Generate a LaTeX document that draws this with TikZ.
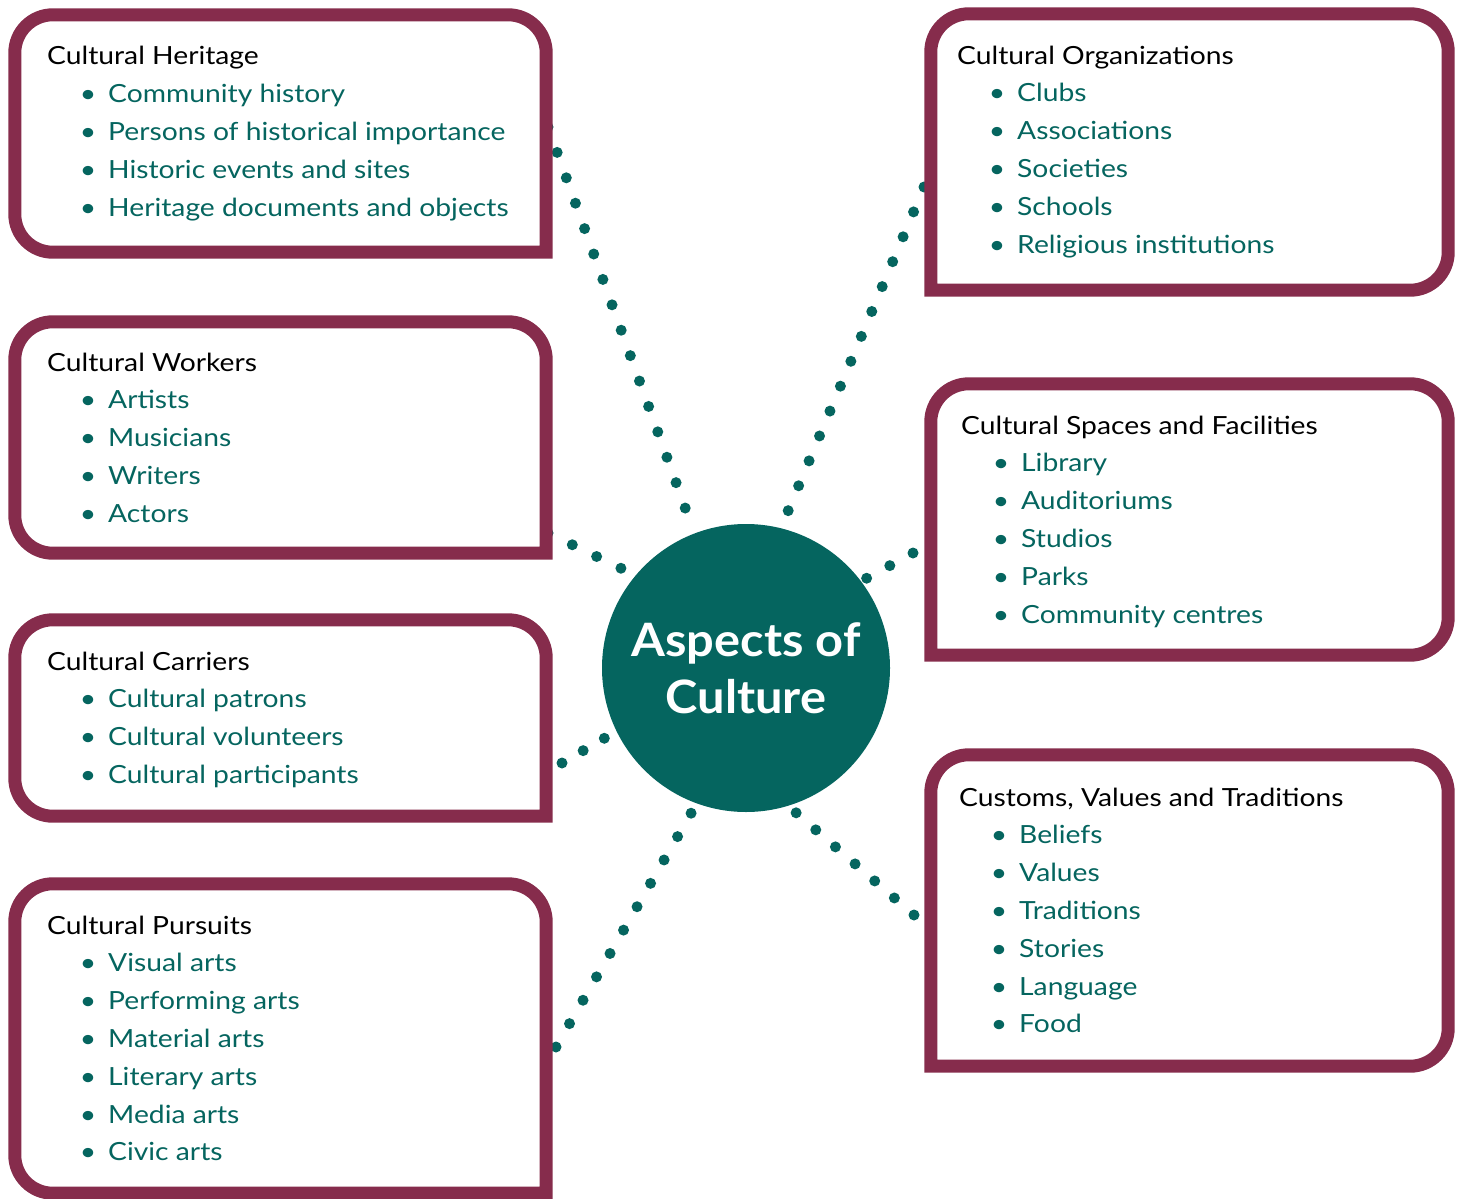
\documentclass[tikz,border=0pt]{standalone}
\usepackage{fontspec}
\setmainfont{Lato}[FakeStretch=1.13]
\newfontfamily\titlefont{Lato}[FakeStretch=1.06]
\usetikzlibrary{backgrounds}
\definecolor{maroon}{HTML}{862C4C}
\definecolor{tealc}{HTML}{05655F}
\newcommand\lframe[1]{\draw[frame] (#1.south east) -- ([yshift=-38pt]#1.north east) arc[start angle=0,end angle=90,radius=38pt] -- ([xshift=38pt]#1.north west) arc[start angle=90,end angle=180,radius=38pt] -- ([yshift=38pt]#1.south west) arc[start angle=180,end angle=270,radius=38pt] -- cycle;}
\newcommand\rframe[1]{\draw[frame] (#1.south west) -- ([yshift=-38pt]#1.north west) arc[start angle=180,end angle=90,radius=38pt] -- ([xshift=-38pt]#1.north east) arc[start angle=90,end angle=0,radius=38pt] -- ([yshift=38pt]#1.south east) arc[start angle=0,end angle=-90,radius=38pt] -- cycle;}
\newcommand\entries[6]{%
  \node[ttl] (#1t) at (#2,-#4) {#5};
  \foreach \s [count=\i] in {#6} \node[itm] (#1\i) at (#3,{-#4-37.8*\i}) {\s};
}
\begin{document}
\begin{tikzpicture}[x=1pt,y=1pt,
  frame/.style={draw=maroon,fill=white,line width=13pt},
  boxarea/.style={rectangle,inner sep=0pt},
  ttl/.style={anchor=base west,inner sep=0pt,font=\fontsize{25}{30}\selectfont,text=black},
  itm/.style={ttl,text=tealc,execute at begin node={\llap{\textbullet\hspace{12pt}}}},
  dotline/.style={draw=tealc,line width=11pt,line cap=round,dash pattern=on 0pt off #1},
  dotline/.default=27pt]
\useasboundingbox (0,0) rectangle (1459,-1199);
% box areas
\node[boxarea,minimum width=531pt,minimum height=237pt] (heritage) at (280.5,-133.5) {};
\node[boxarea,minimum width=531pt,minimum height=231pt] (workers) at (280.5,-437.5) {};
\node[boxarea,minimum width=531pt,minimum height=196pt] (carriers) at (280.5,-718) {};
\node[boxarea,minimum width=531pt,minimum height=309pt] (pursuits) at (280.5,-1038.5) {};
\node[boxarea,minimum width=517pt,minimum height=276pt] (orgs) at (1189.5,-152) {};
\node[boxarea,minimum width=517pt,minimum height=271pt] (spaces) at (1189.5,-519.5) {};
\node[boxarea,minimum width=517pt,minimum height=311pt] (customs) at (1189.5,-910.5) {};
\lframe{heritage}\lframe{workers}\lframe{carriers}\lframe{pursuits}
\rframe{orgs}\rframe{spaces}\rframe{customs}
% texts
\entries{h}{47}{108}{65}{Cultural Heritage}{Community history,Persons of historical importance,Historic events and sites,Heritage documents and objects}
\entries{w}{47}{108}{371}{Cultural Workers}{Artists,Musicians,Writers,Actors}
\entries{c}{47}{108}{670}{Cultural Carriers}{Cultural patrons,Cultural volunteers,Cultural participants}
\entries{p}{47}{108}{934}{Cultural Pursuits}{Visual arts,Performing arts,Material arts,Literary arts,Media arts,Civic arts}
\entries{o}{957}{1017}{64}{Cultural Organizations}{Clubs,Associations,Societies,Schools,Religious institutions}
\entries{s}{961}{1021}{434}{Cultural Spaces and Facilities}{Library,Auditoriums,Studios,Parks,Community centres}
\entries{v}{959}{1019}{806}{Customs, Values and Traditions}{Beliefs,Values,Traditions,Stories,Language,Food}
% centre
\node[circle,fill=tealc,minimum size=288pt,inner sep=0pt,text=white,align=center,font=\fontsize{46}{57}\selectfont\titlefont\bfseries] (circ) at (746,-668) {Aspects of\\Culture};
% connector start points
\coordinate (s1) at (548,-127);
\coordinate (s2) at (924,-187);
\coordinate (s3) at (548,-533);
\coordinate (s4) at (913,-553);
\coordinate (s5) at (562,-763);
\coordinate (s6) at (556,-1047);
\coordinate (s7) at (914,-915);
\begin{scope}[on background layer]
\draw[dotline] (s1) -- (circ.111.6);
\draw[dotline] (s2) -- (circ.76.1);
\draw[dotline] (s3) -- (circ.140.7);
\draw[dotline=26.4pt] (s4) -- (circ.37.7);
\draw[dotline=24.5pt] (s5) -- (circ.206.9);
\draw[dotline] (s6) -- (circ.250.3);
\draw[dotline=26pt] (s7) -- (circ.287.5);
\end{scope}
\end{tikzpicture}
\end{document}
